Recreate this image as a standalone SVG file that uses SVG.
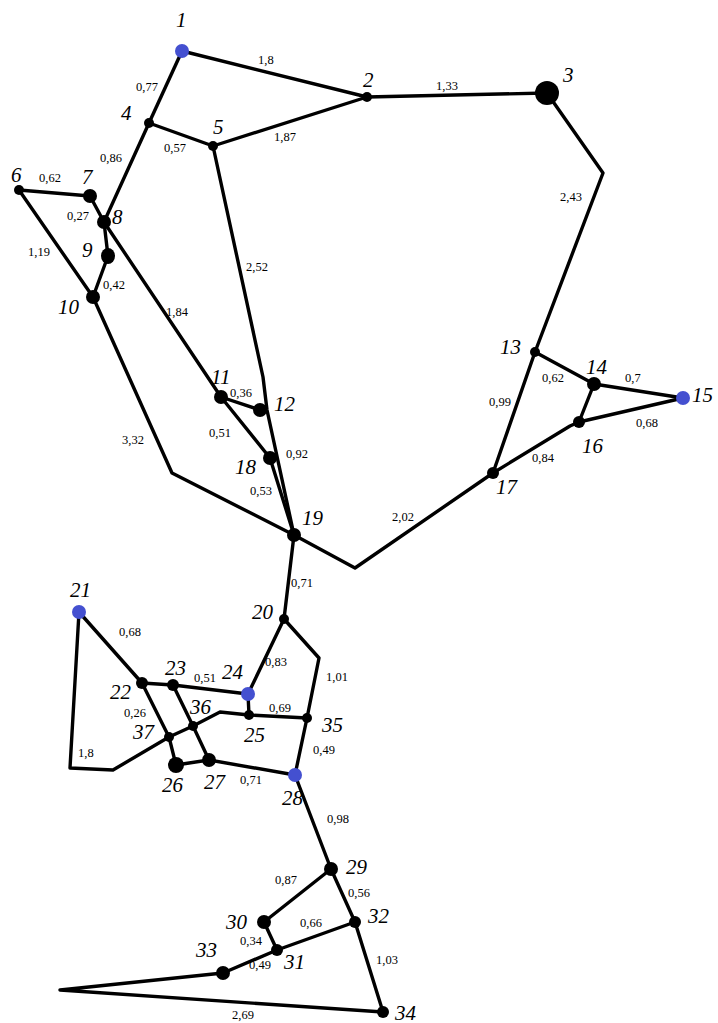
<svg xmlns="http://www.w3.org/2000/svg" width="718" height="1023" viewBox="0 0 718 1023">
<style>
.e{fill:none;stroke:#000;stroke-width:3.4;stroke-linejoin:round;stroke-linecap:round}
.n{fill:#000}
.b{fill:#4450d0}
.t{font-family:"Liberation Serif",serif;font-style:italic;font-size:21px;fill:#000}
.w{font-family:"Liberation Serif",serif;font-size:12.5px;fill:#000}
</style>
<rect width="718" height="1023" fill="#fff"/>
<g id="connectors">
<polyline class="e" points="182,51 367,97"/>
<polyline class="e" points="182,51 149,123"/>
<polyline class="e" points="149,123 213,146"/>
<polyline class="e" points="213,146 367,97"/>
<polyline class="e" points="367,97 547,93"/>
<polyline class="e" points="547,93 603,173 535,352"/>
<polyline class="e" points="149,123 104,222"/>
<polyline class="e" points="19,190 90,196"/>
<polyline class="e" points="90,196 104,222 221,397"/>
<polyline class="e" points="19,190 93,297"/>
<polyline class="e" points="104,222 108,256 93,297"/>
<polyline class="e" points="93,297 172,473 294,535"/>
<polyline class="e" points="213,146 263,377 267,410 294,535"/>
<polyline class="e" points="221,397 260,410"/>
<polyline class="e" points="221,397 270,458 294,535"/>
<polyline class="e" points="294,535 355,568 493,473"/>
<polyline class="e" points="535,352 594,384 683,398"/>
<polyline class="e" points="535,352 493,473"/>
<polyline class="e" points="594,384 579,422 683,398"/>
<polyline class="e" points="493,473 570,426 579,422"/>
<polyline class="e" points="294,535 284,619"/>
<polyline class="e" points="284,619 248,694"/>
<polyline class="e" points="284,619 319,658 307,718 295,775"/>
<polyline class="e" points="79,612 142,683 169,737 176,765"/>
<polyline class="e" points="142,683 173,685 248,694"/>
<polyline class="e" points="173,685 193,726 209,760"/>
<polyline class="e" points="248,694 249,715"/>
<polyline class="e" points="79,612 70,768 113,770 169,737 193,726 220,712 249,715 307,718"/>
<polyline class="e" points="176,765 209,760 295,775"/>
<polyline class="e" points="295,775 331,869"/>
<polyline class="e" points="331,869 264,922 277,950"/>
<polyline class="e" points="331,869 355,922 383,1012"/>
<polyline class="e" points="355,922 277,950 223,973 60,990 383,1012"/>
</g>
<g id="edge-labels">
<text class="w" x="258" y="64">1,8</text>
<text class="w" x="136" y="91">0,77</text>
<text class="w" x="164" y="152">0,57</text>
<text class="w" x="274" y="141">1,87</text>
<text class="w" x="436" y="90">1,33</text>
<text class="w" x="560" y="201">2,43</text>
<text class="w" x="100" y="162">0,86</text>
<text class="w" x="39" y="182">0,62</text>
<text class="w" x="67" y="220">0,27</text>
<text class="w" x="28" y="256">1,19</text>
<text class="w" x="103" y="289">0,42</text>
<text class="w" x="166" y="316">1,84</text>
<text class="w" x="246" y="271">2,52</text>
<text class="w" x="230" y="397">0,36</text>
<text class="w" x="209" y="437">0,51</text>
<text class="w" x="286" y="458">0,92</text>
<text class="w" x="250" y="495">0,53</text>
<text class="w" x="122" y="444">3,32</text>
<text class="w" x="542" y="382">0,62</text>
<text class="w" x="625" y="382">0,7</text>
<text class="w" x="489" y="406">0,99</text>
<text class="w" x="636" y="427">0,68</text>
<text class="w" x="532" y="462">0,84</text>
<text class="w" x="392" y="521">2,02</text>
<text class="w" x="291" y="587">0,71</text>
<text class="w" x="119" y="636">0,68</text>
<text class="w" x="265" y="666">0,83</text>
<text class="w" x="326" y="681">1,01</text>
<text class="w" x="194" y="682">0,51</text>
<text class="w" x="124" y="717">0,26</text>
<text class="w" x="269" y="712">0,69</text>
<text class="w" x="78" y="757">1,8</text>
<text class="w" x="313" y="754">0,49</text>
<text class="w" x="240" y="784">0,71</text>
<text class="w" x="327" y="823">0,98</text>
<text class="w" x="275" y="884">0,87</text>
<text class="w" x="348" y="897">0,56</text>
<text class="w" x="300" y="927">0,66</text>
<text class="w" x="240" y="945">0,34</text>
<text class="w" x="249" y="969">0,49</text>
<text class="w" x="376" y="964">1,03</text>
<text class="w" x="232" y="1019">2,69</text>
</g>
<g id="n1"><circle class="b" cx="182" cy="51" r="7"/><text class="t" x="176" y="27">1</text></g>
<g id="n2"><circle class="n" cx="367" cy="97" r="5"/><text class="t" x="363" y="87">2</text></g>
<g id="n3"><circle class="n" cx="547" cy="93" r="12"/><text class="t" x="563" y="82">3</text></g>
<g id="n4"><circle class="n" cx="149" cy="123" r="5"/><text class="t" x="121" y="120">4</text></g>
<g id="n5"><circle class="n" cx="213" cy="146" r="5"/><text class="t" x="213" y="134">5</text></g>
<g id="n6"><circle class="n" cx="19" cy="190" r="5"/><text class="t" x="11" y="182">6</text></g>
<g id="n7"><circle class="n" cx="90" cy="196" r="7"/><text class="t" x="82" y="184">7</text></g>
<g id="n8"><circle class="n" cx="104" cy="222" r="7"/><text class="t" x="112" y="224">8</text></g>
<g id="n9"><ellipse class="n" cx="108" cy="256" rx="7" ry="8"/><text class="t" x="82" y="257">9</text></g>
<g id="n10"><circle class="n" cx="93" cy="297" r="7"/><text class="t" x="58" y="314">10</text></g>
<g id="n11"><circle class="n" cx="221" cy="397" r="7"/><text class="t" x="211" y="384">11</text></g>
<g id="n12"><circle class="n" cx="260" cy="410" r="7"/><text class="t" x="274" y="411">12</text></g>
<g id="n13"><circle class="n" cx="535" cy="352" r="5"/><text class="t" x="500" y="354">13</text></g>
<g id="n14"><circle class="n" cx="594" cy="384" r="7"/><text class="t" x="586" y="374">14</text></g>
<g id="n15"><circle class="b" cx="683" cy="398" r="7"/><text class="t" x="692" y="402">15</text></g>
<g id="n16"><circle class="n" cx="579" cy="422" r="6"/><text class="t" x="582" y="453">16</text></g>
<g id="n17"><circle class="n" cx="493" cy="473" r="6"/><text class="t" x="496" y="494">17</text></g>
<g id="n18"><circle class="n" cx="270" cy="458" r="7"/><text class="t" x="235" y="474">18</text></g>
<g id="n19"><circle class="n" cx="294" cy="535" r="7"/><text class="t" x="302" y="525">19</text></g>
<g id="n20"><circle class="n" cx="284" cy="619" r="5"/><text class="t" x="252" y="619">20</text></g>
<g id="n21"><circle class="b" cx="79" cy="612" r="7"/><text class="t" x="70" y="597">21</text></g>
<g id="n22"><circle class="n" cx="142" cy="683" r="6"/><text class="t" x="110" y="699">22</text></g>
<g id="n23"><circle class="n" cx="173" cy="685" r="6"/><text class="t" x="165" y="675">23</text></g>
<g id="n24"><circle class="b" cx="248" cy="694" r="7"/><text class="t" x="222" y="679">24</text></g>
<g id="n25"><circle class="n" cx="249" cy="715" r="5"/><text class="t" x="244" y="742">25</text></g>
<g id="n26"><circle class="n" cx="176" cy="765" r="8"/><text class="t" x="162" y="792">26</text></g>
<g id="n27"><circle class="n" cx="209" cy="760" r="7"/><text class="t" x="204" y="789">27</text></g>
<g id="n28"><circle class="b" cx="295" cy="775" r="7"/><text class="t" x="282" y="805">28</text></g>
<g id="n29"><circle class="n" cx="331" cy="869" r="7"/><text class="t" x="346" y="874">29</text></g>
<g id="n30"><circle class="n" cx="264" cy="922" r="7"/><text class="t" x="226" y="929">30</text></g>
<g id="n31"><circle class="n" cx="277" cy="950" r="6"/><text class="t" x="284" y="969">31</text></g>
<g id="n32"><circle class="n" cx="355" cy="922" r="6"/><text class="t" x="368" y="923">32</text></g>
<g id="n33"><circle class="n" cx="223" cy="973" r="7"/><text class="t" x="196" y="957">33</text></g>
<g id="n34"><circle class="n" cx="383" cy="1012" r="6"/><text class="t" x="395" y="1020">34</text></g>
<g id="n35"><circle class="n" cx="307" cy="718" r="5"/><text class="t" x="322" y="732">35</text></g>
<g id="n36"><circle class="n" cx="193" cy="726" r="5"/><text class="t" x="190" y="714">36</text></g>
<g id="n37"><circle class="n" cx="169" cy="737" r="5"/><text class="t" x="133" y="739">37</text></g>
</svg>
